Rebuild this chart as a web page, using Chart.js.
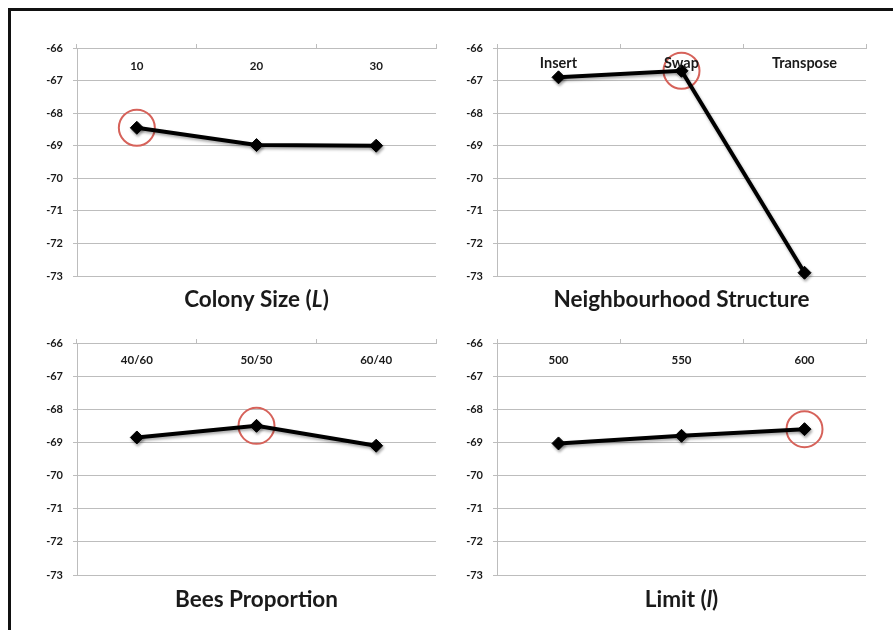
<!DOCTYPE html>
<html>
<head>
<meta charset="utf-8">
<script src="https://cdn.jsdelivr.net/npm/chart.js@4/dist/chart.umd.min.js"></script>
<style>
  html, body { margin: 0; padding: 0; background: #fff; overflow: hidden; }
  body { width: 893px; height: 630px; position: relative; }
  .frame { position: absolute; left: 8px; top: 8px; width: 1000px; height: 1000px;
           border-left: 3px solid #111; border-top: 3px solid #111; }
  canvas { position: absolute; }
</style>
</head>
<body>
<div class="frame"></div>
<canvas id="c1" width="446" height="320" style="left:0;top:0"></canvas>
<canvas id="c2" width="447" height="320" style="left:446px;top:0"></canvas>
<canvas id="c3" width="446" height="310" style="left:0;top:320px"></canvas>
<canvas id="c4" width="447" height="310" style="left:446px;top:320px"></canvas>
<script>
// Parameter settings and the mean score obtained with each
const colonySizes = ['10', '20', '30'];
const colonyScores = [-68.45, -68.98, -69.0];

const neighbourhoods = ['Insert', 'Swap', 'Transpose'];
const neighbourhoodScores = [-66.9, -66.7, -72.9];

const beeProportions = ['40/60', '50/50', '60/40'];
const proportionScores = [-68.85, -68.5, -69.1];

const limits = ['500', '550', '600'];
const limitScores = [-69.03, -68.8, -68.6];

// Shared value axis
const yMin = -73;
const yMax = -66;
const yStep = 1;

const FONT = 'Lato, "Open Sans", sans-serif';
const GRID = '#bdbdbd';
const TEXT = '#1a1a1a';
const RING = '#d6625a';

// Category names printed just under the top axis line
const categoryLabels = {
  id: 'categoryLabels',
  afterDraw(chart, args, opts) {
    const { ctx, chartArea } = chart;
    const x = chart.scales.x;
    ctx.save();
    ctx.font = 'bold ' + opts.size + 'px ' + FONT;
    ctx.fillStyle = TEXT;
    ctx.textAlign = 'center';
    ctx.textBaseline = 'middle';
    chart.data.labels.forEach((lab, i) => {
      ctx.fillText(lab, x.getPixelForValue(i), chartArea.top + opts.offset);
    });
    ctx.restore();
  }
};

// Panel caption below the plot, with optional italic pieces
const panelTitle = {
  id: 'panelTitle',
  afterDraw(chart, args, opts) {
    const { ctx, chartArea } = chart;
    const parts = opts.parts || [];
    const fontOf = p => (p.italic ? 'italic ' : '') + 'bold 22.5px ' + FONT;
    ctx.save();
    let total = 0;
    parts.forEach(p => { ctx.font = fontOf(p); total += ctx.measureText(p.text).width; });
    let x = (chartArea.left + chartArea.right) / 2 - total / 2;
    const y = chartArea.bottom + opts.offset;
    ctx.fillStyle = TEXT;
    ctx.textAlign = 'left';
    ctx.textBaseline = 'middle';
    parts.forEach(p => {
      ctx.font = fontOf(p);
      ctx.fillText(p.text, x, y);
      x += ctx.measureText(p.text).width;
    });
    ctx.restore();
  }
};

// Soft drop shadow under the score line
const lineShadow = {
  id: 'lineShadow',
  beforeDatasetDraw(chart, args) {
    if (args.index !== 0) return;
    const ctx = chart.ctx;
    ctx.save();
    ctx.shadowColor = 'rgba(0,0,0,0.35)';
    ctx.shadowBlur = 3;
    ctx.shadowOffsetX = 1;
    ctx.shadowOffsetY = 2;
  },
  afterDatasetDraw(chart, args) {
    if (args.index !== 0) return;
    chart.ctx.restore();
  }
};

function bestOnly(values) {
  const best = Math.max(...values);
  return values.map(v => (v === best ? v : null));
}

function makePanel(id, labels, values, cfg) {
  new Chart(document.getElementById(id), {
    type: 'line',
    data: {
      labels: labels,
      datasets: [
        {
          data: values,
          borderColor: '#000',
          borderWidth: 4,
          pointStyle: 'rectRot',
          pointRadius: 6.5,
          pointBackgroundColor: '#000',
          pointBorderColor: '#000',
          pointBorderWidth: 1,
          tension: 0,
          clip: false
        },
        {
          data: bestOnly(values),
          showLine: false,
          pointStyle: 'circle',
          pointRadius: 18,
          pointBorderWidth: 2,
          pointBorderColor: RING,
          pointBackgroundColor: 'rgba(0,0,0,0)',
          clip: false
        }
      ]
    },
    options: {
      responsive: false,
      devicePixelRatio: 1,
      animation: false,
      events: [],
      layout: { padding: cfg.padding, autoPadding: false },
      scales: {
        x: {
          type: 'category',
          position: 'top',
          offset: true,
          grid: {
            offset: true,
            drawOnChartArea: false,
            drawTicks: true,
            tickLength: 4,
            color: GRID
          },
          border: { color: GRID },
          ticks: { display: false }
        },
        y: {
          min: yMin,
          max: yMax,
          afterFit(scale) { scale.width = cfg.axisWidth; },
          grid: { color: GRID, tickLength: 4 },
          border: { color: GRID },
          ticks: {
            stepSize: yStep,
            padding: 10,
            color: TEXT,
            font: { family: FONT, size: 11, weight: 'bold' }
          }
        }
      },
      plugins: {
        legend: { display: false },
        tooltip: { enabled: false },
        title: { display: false },
        categoryLabels: { size: cfg.labelSize, offset: cfg.labelOffset },
        panelTitle: { parts: cfg.title, offset: cfg.titleOffset }
      }
    },
    plugins: [lineShadow, categoryLabels, panelTitle]
  });
}

makePanel('c1', colonySizes, colonyScores, {
  padding: { left: 0, top: 44, right: 10, bottom: 44 },
  axisWidth: 77, labelSize: 11.5, labelOffset: 18, titleOffset: 24,
  title: [{ text: 'Colony Size (' }, { text: 'L', italic: true }, { text: ')' }]
});

makePanel('c2', neighbourhoods, neighbourhoodScores, {
  padding: { left: 0, top: 44, right: 27, bottom: 44 },
  axisWidth: 51, labelSize: 14.5, labelOffset: 15, titleOffset: 24,
  title: [{ text: 'Neighbourhood Structure' }]
});

makePanel('c3', beeProportions, proportionScores, {
  padding: { left: 0, top: 19, right: 10, bottom: 55 },
  axisWidth: 77, labelSize: 11.5, labelOffset: 17, titleOffset: 25,
  title: [{ text: 'Bees Proportion' }]
});

makePanel('c4', limits, limitScores, {
  padding: { left: 0, top: 19, right: 27, bottom: 55 },
  axisWidth: 51, labelSize: 11.5, labelOffset: 17, titleOffset: 25,
  title: [{ text: 'Limit (' }, { text: 'l', italic: true }, { text: ')' }]
});
</script>
</body>
</html>
